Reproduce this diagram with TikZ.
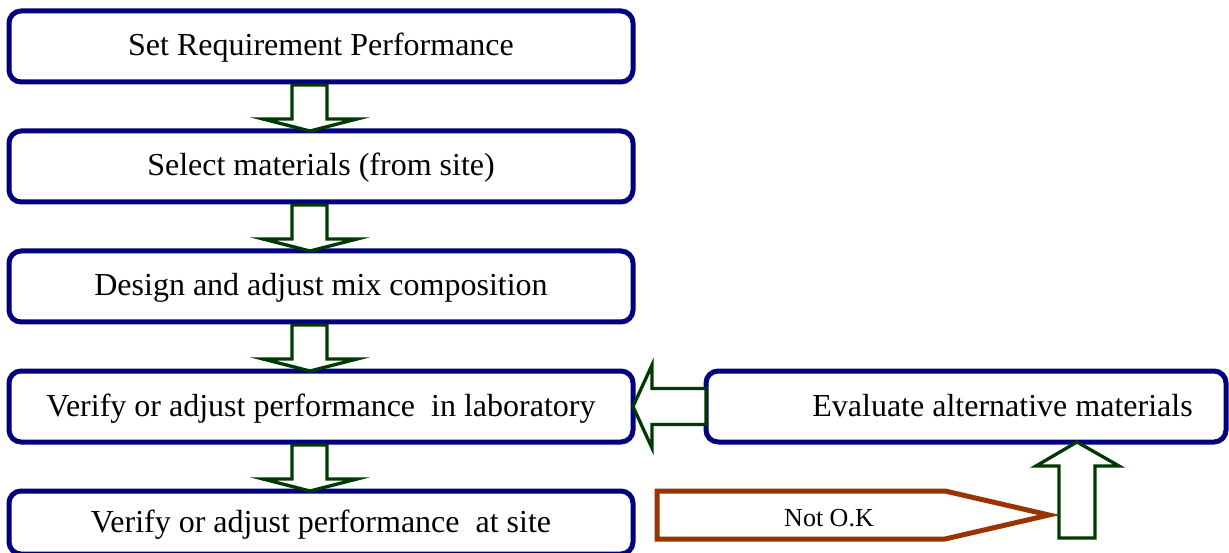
\documentclass[tikz,border=0pt]{standalone}
\usepackage{fontspec}
\setmainfont{Liberation Serif}
\usetikzlibrary{calc}

\definecolor{boxblue}{RGB}{0,0,128}
\definecolor{arrowgreen}{RGB}{0,58,0}
\definecolor{okbrown}{RGB}{153,51,0}

\tikzset{
  stepbox/.style={draw=boxblue, line width=5pt, rounded corners=12pt,
    minimum width=624pt, minimum height=71pt, outer sep=0pt, inner sep=0pt,
    font=\fontsize{32}{36}\selectfont, text height=23pt, text depth=4pt},
  boxtext/.style={font=\fontsize{32}{36}\selectfont, inner sep=0pt,
    text height=23pt, text depth=4pt},
  flowarrow/.style={draw=arrowgreen, line width=3.3pt, fill=white, line join=miter},
  okarrow/.style={draw=okbrown, line width=5pt, line join=miter, fill=white},
  oktext/.style={font=\fontsize{26}{30}\selectfont, inner sep=0pt},
}

% hollow block arrow pointing down from box #1 to box #2
\newcommand{\downblock}[2]{%
  \draw[flowarrow] ($(#1.south)+(-29,3)$) -- ($(#2.north)+(-29,-12)$)
    -- ($(#2.north)+(-58,-12)$) -- ($(#2.north)+(-11,0)$)
    -- ($(#2.north)+(36,-12)$) -- ($(#2.north)+(6,-12)$)
    -- ($(#1.south)+(6,3)$) -- cycle;}

\begin{document}
\begin{tikzpicture}[x=1pt, y=-1pt]
  \useasboundingbox (0,0) rectangle (1229,553);
  \fill[white] (0,0) rectangle (1229,553);

  % main sequence of steps
  \node[stepbox] (req) at (321,46.5)  {Set Requirement Performance};
  \node[stepbox] (sel) at (321,166.5) {Select materials (from site)};
  \node[stepbox] (mix) at (321,286.5) {Design and adjust mix composition};
  \node[stepbox] (lab) at (321,406.5) {Verify or adjust performance\ \ in laboratory};
  \node[stepbox, minimum height=63pt] (site) at (321,522.5) {Verify or adjust performance\ \ at site};

  % side step
  \node[stepbox, minimum width=520pt] (alt) at (966,406.5) {};
  \node[boxtext] (altlabel) at (1002.5,406.5) {Evaluate alternative materials};

  % downward flow
  \downblock{req}{sel}
  \downblock{sel}{mix}
  \downblock{mix}{lab}
  \downblock{lab}{site}

  % feedback from the alternative materials into the laboratory step
  \draw[flowarrow] ($(alt.west)+(0,-18)$) -- ($(lab.east)+(19,-18)$)
    -- ($(lab.east)+(19,-41.5)$) -- (lab.east)
    -- ($(lab.east)+(19,41.5)$) -- ($(lab.east)+(19,18)$)
    -- ($(alt.west)+(0,18)$) -- cycle;

  % "Not O.K" branch
  \coordinate (okstart) at (657,491);
  \coordinate (oktip) at (1049,515);
  \draw[okarrow] (okstart) -- (945,491) -- (oktip) -- (945,539) -- (657,539) -- cycle;
  \node[oktext] (oklabel) at (829,518) {Not O.K};

  % upward arrow into the alternative materials step
  \coordinate (uptip) at ($(alt.south)+(111,0)$);
  \coordinate (upfoot) at (1077,538);
  \draw[flowarrow] ($(upfoot)+(-18,0)$) -- ($(uptip)+(-18,24)$)
    -- ($(uptip)+(-41,24)$) -- (uptip)
    -- ($(uptip)+(42,24)$) -- ($(uptip)+(18,24)$)
    -- ($(upfoot)+(18,0)$) -- cycle;
\end{tikzpicture}
\end{document}
